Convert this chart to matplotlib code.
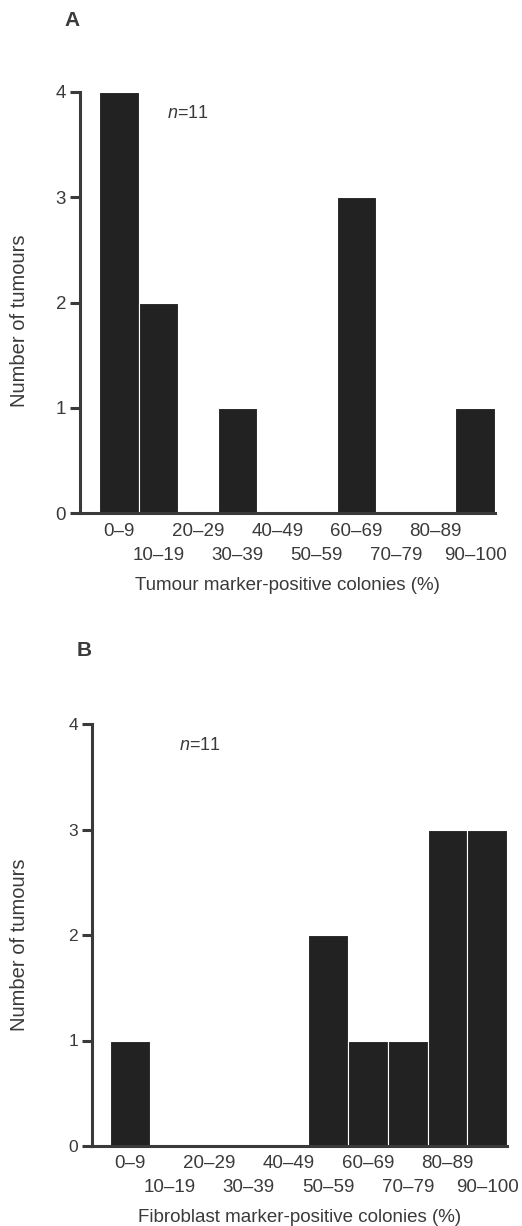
import matplotlib.pyplot as plt
import numpy as np

plt.rcParams['font.family'] = ['Liberation Sans', 'DejaVu Sans']
plt.rcParams['mathtext.fontset'] = 'custom'
plt.rcParams['mathtext.it'] = 'Liberation Sans:italic'

# ---- data ---------------------------------------------------------------
bins = ['0–9', '10–19', '20–29', '30–39', '40–49',
        '50–59', '60–69', '70–79', '80–89', '90–100']
tumour_counts = [4, 2, 0, 1, 0, 0, 3, 0, 0, 1]
fibroblast_counts = [1, 0, 0, 0, 0, 2, 1, 1, 3, 3]

BAR = '#222222'
INK = '#3a3a3a'
W, H = 522, 1226


def px_axes(fig, left, right, top, bottom):
    return fig.add_axes([left / W, 1 - bottom / H, (right - left) / W, (bottom - top) / H])


def panel(ax, counts, xlabel, xmin, label_y, row1_y, row2_y, ytick_size):
    x = np.arange(len(counts))
    ax.bar(x, counts, width=1.0, align='edge', color=BAR, edgecolor='white', linewidth=0.8)
    ax.set_xlim(xmin, 10)
    ax.set_ylim(0, 4)
    for s in ('top', 'right'):
        ax.spines[s].set_visible(False)
    for s in ('left', 'bottom'):
        ax.spines[s].set_linewidth(2.2)
        ax.spines[s].set_color(INK)
        ax.spines[s].set_capstyle('projecting')
    ax.set_yticks([0, 1, 2, 3, 4])
    ax.tick_params(axis='y', length=7, width=2.2, color=INK, labelcolor=INK,
                   labelsize=ytick_size, pad=3)
    ax.set_xticks([])
    # staggered bin labels
    for i, lab in enumerate(bins):
        yy = row1_y if i % 2 == 0 else row2_y
        ax.annotate(lab, (i + 0.5, 0), xycoords=('data', 'axes fraction'),
                    xytext=(0, -yy), textcoords='offset pixels',
                    ha='center', va='center', fontsize=13.5, color=INK)
    ax.annotate(xlabel, (0.5, 0), xycoords='axes fraction', xytext=(0, -label_y),
                textcoords='offset pixels', ha='center', va='center', fontsize=13.5, color=INK)
    ax.text(0.21, 0.95, '$n$=11', transform=ax.transAxes, ha='left', va='center',
            fontsize=13, color=INK)


fig = plt.figure(figsize=(W / 100, H / 100), dpi=100)

axA = px_axes(fig, 80, 495, 92, 513)
panel(axA, tumour_counts, 'Tumour marker-positive colonies (%)', -0.48, 73, 18, 43, 13.5)

axB = px_axes(fig, 92, 507, 724, 1146)
panel(axB, fibroblast_counts, 'Fibroblast marker-positive colonies (%)', -0.45, 72, 17, 41, 12.5)

fig.text(64 / W, 1 - 20 / H, 'A', fontsize=15, fontweight='bold', color=INK, ha='left', va='center')
fig.text(77 / W, 1 - 650 / H, 'B', fontsize=15, fontweight='bold', color=INK, ha='left', va='center')
fig.text(20 / W, 1 - 321 / H, 'Number of tumours', rotation=90, fontsize=14.5, color=INK,
         ha='center', va='center')
fig.text(20 / W, 1 - 945 / H, 'Number of tumours', rotation=90, fontsize=14.5, color=INK,
         ha='center', va='center')

fig.savefig('out.png', dpi=100)
